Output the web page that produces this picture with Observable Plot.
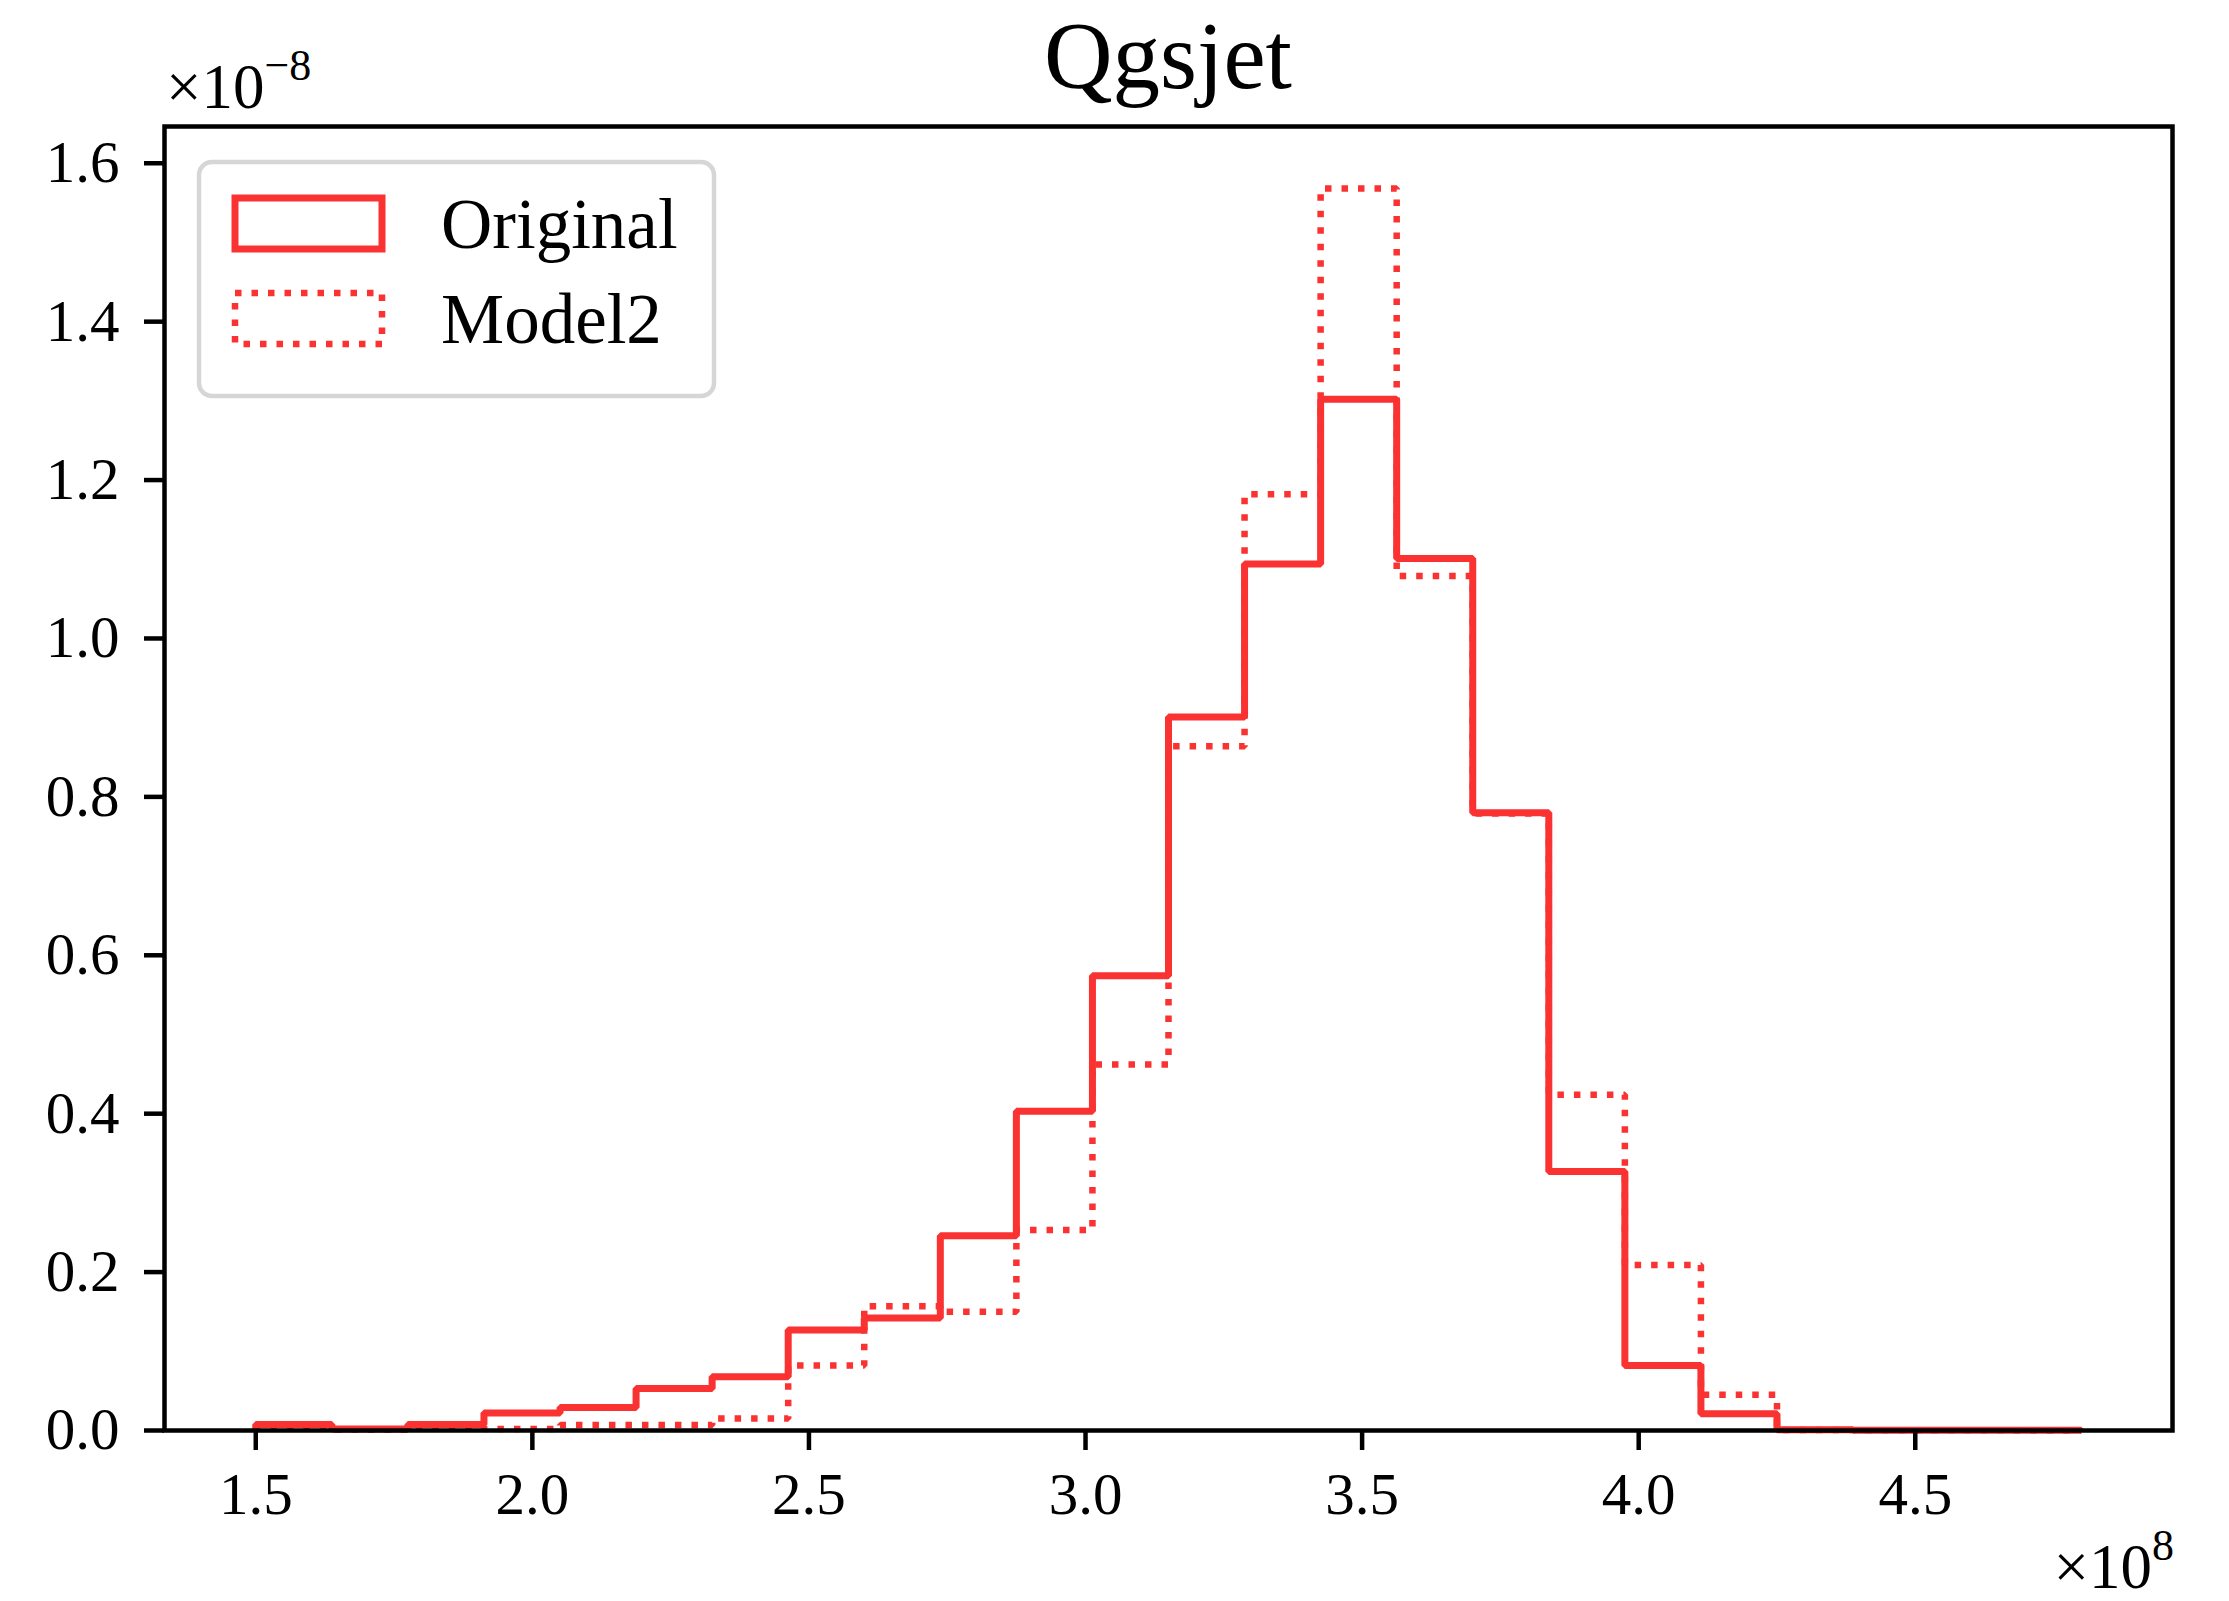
<!DOCTYPE html>
<html>
<head>
<meta charset="utf-8">
<script src="https://cdn.jsdelivr.net/npm/d3@7"></script>
<script src="https://cdn.jsdelivr.net/npm/@observablehq/plot@0.6"></script>
<style>
  body { margin: 0; background: #ffffff; }
  svg text { font-family: "Liberation Serif", "DejaVu Serif", serif; }
</style>
</head>
<body>
<div id="chart"></div>
<script>
// Histogram bin edges (units of 1e8) and normalised densities (units of 1e-8)
const binEdges = [1.5, 1.6375, 1.775, 1.9125, 2.05, 2.1875, 2.325, 2.4625, 2.6,
  2.7375, 2.875, 3.0125, 3.15, 3.2875, 3.425, 3.5625, 3.7, 3.8375, 3.975,
  4.1125, 4.25, 4.3875, 4.525, 4.6625, 4.8];

const original = [0.0076, 0.0018, 0.0076, 0.022, 0.029, 0.053, 0.068, 0.127,
  0.142, 0.246, 0.403, 0.574, 0.901, 1.094, 1.302, 1.101, 0.780, 0.327, 0.082,
  0.021, 0.0008, 0.0004, 0.0003, 0.0002];

const model2 = [0.0025, 0.0008, 0.003, 0.002, 0.007, 0.007, 0.015, 0.082,
  0.157, 0.150, 0.253, 0.462, 0.864, 1.182, 1.568, 1.079, 0.779, 0.424, 0.209,
  0.045, 0.0006, 0.0003, 0.0002, 0.0001];

const seriesNames = ["Original", "Model2"];
const xTicks = [1.5, 2.0, 2.5, 3.0, 3.5, 4.0, 4.5];
const yTicks = [0.0, 0.2, 0.4, 0.6, 0.8, 1.0, 1.2, 1.4, 1.6];
const titleText = "Qgsjet";

const red = "#fa3232";
const W = 2229, H = 1601;
const M = { left: 164, right: 57, top: 126, bottom: 171 };

// Outline of a step histogram: rise from zero, walk across the bins, drop back to zero
function stepOutline(values, name) {
  const pts = [{ x: binEdges[0], y: 0, series: name }];
  values.forEach((v, i) => pts.push({ x: binEdges[i], y: v, series: name }));
  pts.push({ x: binEdges[binEdges.length - 1], y: values[values.length - 1], series: name });
  pts.push({ x: binEdges[binEdges.length - 1], y: 0, series: name });
  return pts;
}

const lo = binEdges[0], hi = binEdges[binEdges.length - 1];
const pad = (hi - lo) * 0.05;
const yMax = d3.max([...original, ...model2]) * 1.05;

const solidWidth = 7;
const dottedWidth = 6.5;
const dotted = "6.5,10";
const tickFont = 59;

const chart = Plot.plot({
  width: W,
  height: H,
  marginLeft: M.left,
  marginRight: M.right,
  marginTop: M.top,
  marginBottom: M.bottom,
  style: { fontFamily: "Liberation Serif", fontSize: `${tickFont}px`, background: "#ffffff", overflow: "visible" },
  x: { domain: [lo - pad, hi + pad], label: null },
  y: { domain: [0, yMax], label: null },
  marks: [
    Plot.line(stepOutline(original, seriesNames[0]), {
      x: "x", y: "y", curve: "step-after", stroke: red, strokeWidth: solidWidth,
      strokeLinejoin: "miter", strokeLinecap: "butt"
    }),
    Plot.line(stepOutline(model2, seriesNames[1]), {
      x: "x", y: "y", curve: "step-after", stroke: red, strokeWidth: dottedWidth,
      strokeDasharray: dotted, strokeLinejoin: "miter", strokeLinecap: "butt"
    }),
    Plot.axisX({
      ticks: xTicks, tickSize: 20, tickPadding: 22, strokeWidth: 4.5,
      tickFormat: d3.format(".1f"), fontSize: tickFont, label: null
    }),
    Plot.axisY({
      ticks: yTicks, tickSize: 20, tickPadding: 25, strokeWidth: 4.5,
      tickFormat: d3.format(".1f"), fontSize: tickFont, label: null
    }),
    Plot.frame({ stroke: "#000000", strokeWidth: 4.5 })
  ]
});

document.getElementById("chart").appendChild(chart);

const svg = d3.select(chart);
const plotRight = W - M.right;
const ff = "Liberation Serif";

// Title
svg.append("text")
  .attr("x", (M.left + plotRight) / 2).attr("y", 88)
  .attr("text-anchor", "middle")
  .attr("font-family", ff).attr("font-size", 95).attr("fill", "#000")
  .text(titleText);

// Scale multipliers for the axes
const yOff = svg.append("text")
  .attr("x", 166).attr("y", 108)
  .attr("text-anchor", "start")
  .attr("font-family", ff).attr("font-size", 63).attr("fill", "#000");
yOff.append("tspan").text("\u00d710");
yOff.append("tspan").attr("font-size", 44).attr("dy", -28).text("\u22128");

const xOff = svg.append("text")
  .attr("x", plotRight + 2).attr("y", 1588)
  .attr("text-anchor", "end")
  .attr("font-family", ff).attr("font-size", 63).attr("fill", "#000");
xOff.append("tspan").text("\u00d710");
xOff.append("tspan").attr("font-size", 44).attr("dy", -28).text("8");

// Legend
const lg = svg.append("g");
lg.append("rect")
  .attr("x", 199).attr("y", 162).attr("width", 515).attr("height", 234)
  .attr("rx", 13).attr("ry", 13)
  .attr("fill", "#ffffff").attr("fill-opacity", 0.8)
  .attr("stroke", "#d6d6d6").attr("stroke-width", 4.5);

const entries = [
  { name: seriesNames[0], y: 198, dash: null, sw: solidWidth },
  { name: seriesNames[1], y: 293, dash: dotted, sw: dottedWidth }
];
entries.forEach(e => {
  const r = lg.append("rect")
    .attr("x", 235).attr("y", e.y).attr("width", 147).attr("height", 51)
    .attr("fill", "none").attr("stroke", red).attr("stroke-width", e.sw);
  if (e.dash) r.attr("stroke-dasharray", e.dash);
  lg.append("text")
    .attr("x", 441).attr("y", e.y + 50)
    .attr("text-anchor", "start")
    .attr("font-family", ff).attr("font-size", 71).attr("fill", "#000")
    .text(e.name);
});
</script>
</body>
</html>
